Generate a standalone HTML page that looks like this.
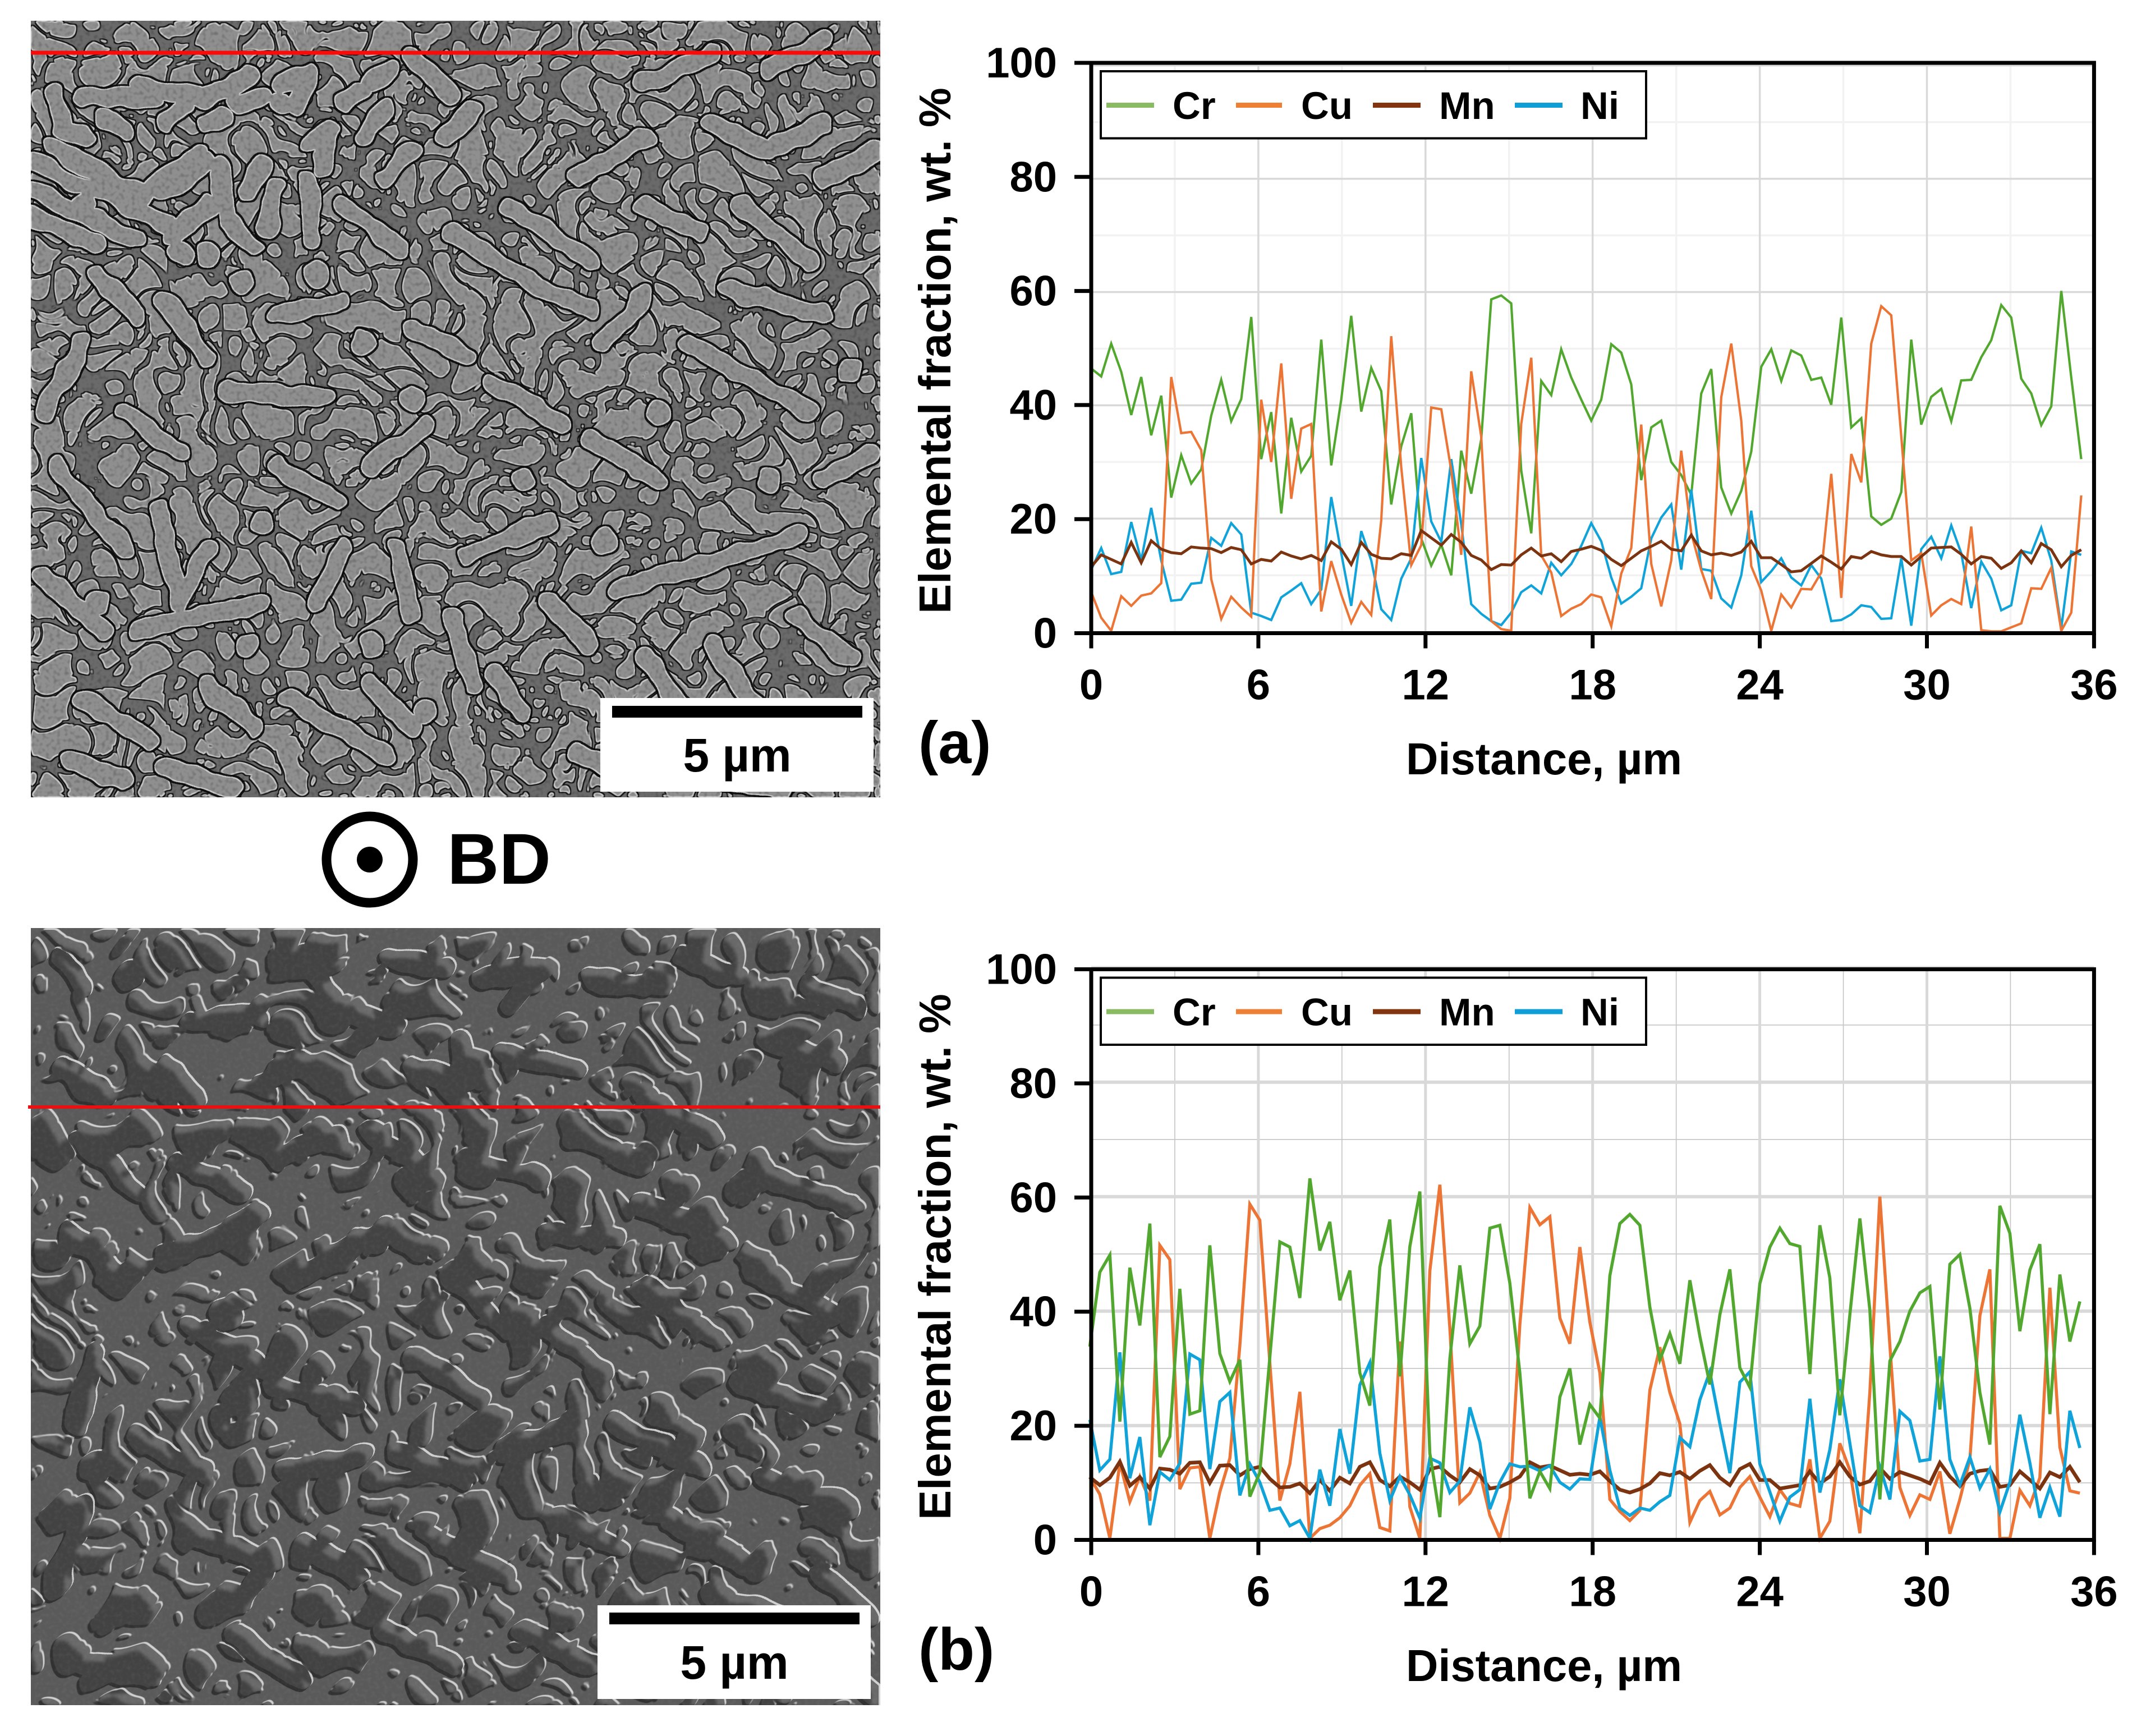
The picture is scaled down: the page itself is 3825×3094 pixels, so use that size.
<!DOCTYPE html>
<html lang="en">
<head>
<meta charset="utf-8">
<title>SEM micrographs and elemental line scans</title>
<style>
html,body{margin:0;padding:0;background:#fff;width:3825px;height:3094px;overflow:hidden}
svg{display:block}
text{font-family:"Liberation Sans",Arial,sans-serif;font-weight:bold;fill:#000}
</style>
</head>
<body>
<svg id="figure" xmlns="http://www.w3.org/2000/svg" width="3825" height="3094" viewBox="0 0 3825 3094">
<defs>
<filter id="semA" filterUnits="userSpaceOnUse" x="0" y="0" width="1514" height="1384" color-interpolation-filters="sRGB">
  <feTurbulence type="turbulence" baseFrequency="0.016" numOctaves="1" seed="5" result="n1"/>
  <feColorMatrix in="n1" type="matrix" values="0 0 0 0 .56  0 0 0 0 .56  0 0 0 0 .56  30 0 0 0 -1.2" result="c1"/>
  <feTurbulence type="turbulence" baseFrequency="0.012" numOctaves="1" seed="12" result="n2"/>
  <feColorMatrix in="n2" type="matrix" values="0 0 0 0 .56  0 0 0 0 .56  0 0 0 0 .56  30 0 0 0 -1.2" result="c2"/>
  <feComposite in="c1" in2="c2" operator="in"/>
  <feGaussianBlur stdDeviation="2"/>
  <feComponentTransfer result="cells"><feFuncA type="linear" slope="5" intercept="-2"/></feComponentTransfer>
  <feMorphology in="cells" operator="dilate" radius="2" result="cellFat"/>
  <feFlood flood-color="#0a0a0a" flood-opacity=".92"/>
  <feComposite in2="cellFat" operator="in" result="cellOutline"/>
  <feMorphology in="cells" operator="erode" radius="2" result="cellThin"/>
  <feComposite in="cells" in2="cellThin" operator="out" result="cellEdge"/>
  <feFlood flood-color="#e6e6e6" flood-opacity=".65"/>
  <feComposite in2="cellEdge" operator="in" result="cellRim"/>
  <feTurbulence type="fractalNoise" baseFrequency="0.02" numOctaves="2" seed="9" result="warp"/>
  <feDisplacementMap in="SourceGraphic" in2="warp" scale="22" xChannelSelector="R" yChannelSelector="G" result="worms"/>
  <feMorphology in="worms" operator="dilate" radius="3" result="wormFat"/>
  <feFlood flood-color="#0a0a0a" flood-opacity=".92"/>
  <feComposite in2="wormFat" operator="in" result="wormOutline"/>
  <feMorphology in="worms" operator="erode" radius="2" result="wormThin"/>
  <feComposite in="worms" in2="wormThin" operator="out" result="wormEdge"/>
  <feFlood flood-color="#e6e6e6" flood-opacity=".65"/>
  <feComposite in2="wormEdge" operator="in" result="wormRim"/>
  <feMerge>
    <feMergeNode in="cellOutline"/><feMergeNode in="cells"/><feMergeNode in="cellRim"/>
    <feMergeNode in="wormOutline"/><feMergeNode in="worms"/><feMergeNode in="wormRim"/>
  </feMerge>
</filter>
<filter id="semB" filterUnits="userSpaceOnUse" x="0" y="0" width="1514" height="1385" color-interpolation-filters="sRGB">
  <feTurbulence type="turbulence" baseFrequency="0.012" numOctaves="1" seed="21" result="n1"/>
  <feColorMatrix in="n1" type="matrix" values="0 0 0 0 .26  0 0 0 0 .26  0 0 0 0 .26  33 0 0 0 -2.4" result="c1"/>
  <feTurbulence type="turbulence" baseFrequency="0.0095" numOctaves="1" seed="33" result="n2"/>
  <feColorMatrix in="n2" type="matrix" values="0 0 0 0 .26  0 0 0 0 .26  0 0 0 0 .26  33 0 0 0 -2.4" result="c2"/>
  <feComposite in="c1" in2="c2" operator="in"/>
  <feGaussianBlur stdDeviation="3"/>
  <feComponentTransfer result="cells"><feFuncA type="linear" slope="5" intercept="-2"/></feComponentTransfer>
  <feTurbulence type="fractalNoise" baseFrequency="0.017" numOctaves="2" seed="14" result="warp"/>
  <feDisplacementMap in="SourceGraphic" in2="warp" scale="28" xChannelSelector="R" yChannelSelector="G" result="worms"/>
  <feMerge result="shape"><feMergeNode in="cells"/><feMergeNode in="worms"/></feMerge>
  <feOffset in="shape" dx="-5" dy="5" result="sh"/>
  <feFlood flood-color="#2f2f2f" flood-opacity=".95"/>
  <feComposite in2="sh" operator="in" result="shadow"/>
  <feOffset in="shape" dx="-3" dy="3" result="s1"/>
  <feComposite in="shape" in2="s1" operator="out" result="edge"/>
  <feFlood flood-color="#e4e4e4" flood-opacity=".85"/>
  <feComposite in2="edge" operator="in" result="rim"/>
  <feOffset in="shape" dx="-16" dy="16" result="s2"/>
  <feComposite in="shape" in2="s2" operator="out"/>
  <feGaussianBlur stdDeviation="3" result="softEdge"/>
  <feFlood flood-color="#9a9a9a" flood-opacity=".45"/>
  <feComposite in2="softEdge" operator="in"/>
  <feComposite in2="shape" operator="in" result="sheen"/>
  <feMerge><feMergeNode in="shadow"/><feMergeNode in="shape"/><feMergeNode in="sheen"/><feMergeNode in="rim"/></feMerge>
</filter>
<filter id="darkGrain" filterUnits="userSpaceOnUse" x="0" y="0" width="1514" height="1384" color-interpolation-filters="sRGB">
  <feTurbulence type="fractalNoise" baseFrequency="0.15" numOctaves="1" seed="3"/>
  <feColorMatrix type="matrix" values="0 0 0 0 0  0 0 0 0 0  0 0 0 0 0  2 0 0 0 -.95"/>
</filter>
<filter id="matrixGrain" filterUnits="userSpaceOnUse" x="0" y="0" width="1514" height="1385" color-interpolation-filters="sRGB">
  <feTurbulence type="fractalNoise" baseFrequency="0.14" numOctaves="2" seed="8"/>
  <feColorMatrix type="matrix" values="0 0 0 0 1  0 0 0 0 1  0 0 0 0 1  1.4 0 0 0 -.6"/>
</filter>
</defs>

<rect width="3825" height="3094" fill="#fff"/>

<svg x="55" y="37" width="1514" height="1384" viewBox="0 0 1514 1384">
  <rect width="1514" height="1384" fill="#6a6a6a"/>
  <g filter="url(#semA)">
    <g transform="scale(2.442) translate(-22,-15)" fill="none" stroke="#8f8f8f" stroke-width="14" stroke-linecap="round" stroke-linejoin="round">
      <path d="M22 117L123 164M22 138L98 175M22 158L69 177M38 107L106 143L143 112M118 140L150 118M125 172L152 150M62 70L112 72M40 68L46 95L62 100M75 85L92 95M100 62L150 72L182 55M120 90L135 78M150 90L162 85M172 75L192 70M205 60L225 55L215 78M160 120L165 160L185 180M190 120L180 140M200 135L195 165M225 130L228 175M225 105L240 95L235 120M250 75L262 65M270 60L285 50M265 100L280 80M300 40L330 70M280 130L300 110M325 100L345 80M250 150L290 180M330 170L395 210L430 225M370 150L430 190M420 130L470 100M470 60L520 40M560 50L600 30M520 90L560 110L600 90M470 150L510 170M540 150L590 190M600 130L640 110"/>
      <path d="M165 285L240 290M60 250L32 300M115 370L130 440L150 400M100 460L190 440M270 340L310 310M450 430L520 410L582 390M520 470L560 530M500 250L590 300M340 405L400 380M210 510L280 550M360 490L380 520M40 340L90 400M30 420L75 460M60 510L110 540M150 500L185 530M230 440L250 400M290 400L300 450M330 450L345 500M400 440L430 470M470 480L500 520M580 450L620 480M600 350L635 330M430 320L480 350M360 280L410 310M300 240L340 260M200 230L250 220M120 220L150 260M70 200L100 230M440 250L470 215M530 210L600 230M590 520L625 555M270 500L300 530M90 300L130 330M200 340L245 365M50 555L90 570M120 560L170 575M420 550L470 570M530 570L570 578"/>
      <path stroke-width="18" d="M130 185h.1M150 185h.1M175 205h.1M230 200h.1M265 250h.1M300 290h.1M190 380h.1M180 470h.1M270 470h.1M310 520h.1M380 350h.1M440 395h.1M560 350h.1M620 270h.1M480 300h.1M70 440h.1M60 150h.1M205 75h.1"/>
    </g>
  </g>
  <rect width="1514" height="1384" filter="url(#darkGrain)" opacity=".3"/>
</svg>
<rect x="55" y="90.5" width="1514" height="7" fill="#fb0a0a"/>
<rect x="1070" y="1244" width="487" height="167" fill="#fff"/>
<rect x="1091" y="1258" width="446" height="21" fill="#000"/>
<text x="1314" y="1375" font-size="84" text-anchor="middle">5 µm</text>

<g>
  <circle cx="659" cy="1532" r="77" fill="none" stroke="#000" stroke-width="17"/>
  <circle cx="659" cy="1532" r="23" fill="#000"/>
  <text x="797" y="1575" font-size="128">BD</text>
</g>

<svg x="55" y="1654" width="1514" height="1385" viewBox="0 0 1514 1385">
  <rect width="1514" height="1385" fill="#5a5a5a"/>
  <g filter="url(#semB)">
    <g transform="scale(2.442) translate(-22,-678)" fill="none" stroke="#434343" stroke-width="17" stroke-linecap="round" stroke-linejoin="round">
      <path d="M60 720L45 700M90 712h.1M140 745L190 742M225 700L250 740L290 748M285 700L325 705M350 715L395 705L370 735M190 790L220 775L252 800M120 780L140 800M45 780L75 800M300 780L340 790L335 760M370 770L420 780M430 715L470 720M500 700L540 715M590 720L625 735M560 760L610 775M470 800L520 830M420 830L470 850M345 850L395 860M270 825L305 850M200 845L245 830M130 850L175 870M60 830L100 870M50 900L90 930M120 920L165 900L190 885M215 935L280 895L305 915M330 930L370 970M400 900L450 905M470 880L530 905M560 860L620 880M550 930L610 960M470 940L520 975M400 970L440 1000M300 990L350 1020M200 1012L258 1025M140 970L195 1000M70 985L55 1040M100 1050L150 1075M210 1075L265 1060M290 1060L340 1080M370 1060L420 1040M450 1040L510 1070M540 1010L600 1030M560 1080L620 1100M490 1110L540 1140M410 1110L450 1130M310 1120L370 1150M220 1125L260 1150M140 1120L195 1140L175 1170M60 1100L40 1160M50 1210L110 1225M170 1195L220 1225M280 1190L330 1215M380 1190L430 1215M470 1210L500 1230M520 1165L570 1180M600 1150L635 1180M620 1220L640 1240"/>
      <path stroke-width="24" d="M95 712h.1M235 1022h.1M270 905h.1M165 960h.1M430 1090h.1M540 1045h.1M505 1050h.1M70 1070h.1"/>
    </g>
  </g>
  <rect width="1514" height="1385" filter="url(#matrixGrain)" opacity=".08"/>
</svg>
<rect x="50" y="1970" width="1519" height="6" fill="#e81010"/>
<rect x="1065" y="2861" width="487" height="167" fill="#fff"/>
<rect x="1086" y="2874" width="446" height="21" fill="#000"/>
<text x="1309" y="2992" font-size="84" text-anchor="middle">5 µm</text>

<g id="chartA"></g>
<g id="chartB"></g>

<g>
  <rect x="1962" y="127" width="972" height="119.5" fill="#fff" stroke="#000" stroke-width="4"/>
  <g><line x1="1972" x2="2057" y1="187.5" y2="187.5" stroke="#8abb63" stroke-width="9"/><text x="2090" y="212" font-size="69">Cr</text></g>
  <g><line x1="2203" x2="2285" y1="187.5" y2="187.5" stroke="#ee8035" stroke-width="9"/><text x="2319" y="212" font-size="69">Cu</text></g>
  <g><line x1="2447" x2="2532" y1="187.5" y2="187.5" stroke="#82350f" stroke-width="9"/><text x="2565" y="212" font-size="69">Mn</text></g>
  <g><line x1="2700" x2="2785" y1="187.5" y2="187.5" stroke="#0f9ed5" stroke-width="9"/><text x="2817" y="212" font-size="69">Ni</text></g>
</g>
<g transform="translate(0,1615.5)">
  <rect x="1962" y="127" width="972" height="119.5" fill="#fff" stroke="#000" stroke-width="4"/>
  <g><line x1="1972" x2="2057" y1="187.5" y2="187.5" stroke="#8abb63" stroke-width="9"/><text x="2090" y="212" font-size="69">Cr</text></g>
  <g><line x1="2203" x2="2285" y1="187.5" y2="187.5" stroke="#ee8035" stroke-width="9"/><text x="2319" y="212" font-size="69">Cu</text></g>
  <g><line x1="2447" x2="2532" y1="187.5" y2="187.5" stroke="#82350f" stroke-width="9"/><text x="2565" y="212" font-size="69">Mn</text></g>
  <g><line x1="2700" x2="2785" y1="187.5" y2="187.5" stroke="#0f9ed5" stroke-width="9"/><text x="2817" y="212" font-size="69">Ni</text></g>
</g>

<text x="1637" y="1360" font-size="106">(a)</text>
<text x="1637" y="2976" font-size="106">(b)</text>
<text x="2752" y="1380" font-size="79.5" text-anchor="middle">Distance, µm</text>
<text x="2752" y="2996" font-size="79.5" text-anchor="middle">Distance, µm</text>
<text transform="translate(1694,625) rotate(-90)" font-size="79.6" text-anchor="middle">Elemental fraction, wt. %</text>
<text transform="translate(1694,2240) rotate(-90)" font-size="79.6" text-anchor="middle">Elemental fraction, wt. %</text>
</svg>

<script>
const sampleStep = 0.359;
const sampleStartA = 0;
const sampleStartB = -0.05;
const xTickValues = [0, 6, 12, 18, 24, 30, 36];
const yTickValues = [0, 20, 40, 60, 80, 100];
const xMinorGrid = [3, 9, 15, 21, 27, 33];
const yMinorGrid = [10, 30, 50, 70, 90];

const crA = [46.5,45.1,50.9,45.9,38.3,45,34.7,41.7,23.7,31.2,26.2,28.7,38.2,44.5,37.2,41.1,55.6,30.5,38.8,20.9,37.8,28.3,31.1,51.6,29.4,41,55.8,38.9,46.6,42.5,22.5,32.8,38.6,16.5,11.7,15.4,10,32,24.4,34,58.7,59.4,58,28.5,17.4,44.3,41.8,49.9,44.9,41,37.3,41,50.8,49.3,43.7,26.8,36.1,37.3,30,27.7,24.2,42.1,46.4,25.5,20.9,24.9,31.8,46.8,49.9,44.3,49.7,48.8,44.5,44.9,40.1,55.5,36.1,37.7,20.4,18.9,20,24.7,51.6,36.6,41.5,42.9,37.2,44.4,44.5,48.5,51.5,57.7,55.5,44.7,42.1,36.5,39.8,60.2,44.9,30.5];
const cuA = [7,2.5,0.2,6.3,4.6,6.4,6.8,8.6,45,35.1,35.3,32.1,9.3,2.3,6.2,4.3,2.7,41,30,47.4,23.5,35.9,36.7,3.6,12.5,6.6,1.6,5.3,3,19.7,52.2,29,11.8,15.3,39.6,39.3,28.5,13.6,46,34.5,1.9,0.5,0.2,36.7,48.4,13.5,10.5,2.8,4.1,4.9,6.6,6.1,1,10.3,14.8,36.6,12,4.5,12.6,32,17.4,10.9,5.8,41.4,50.9,37.3,11.6,7.3,0.2,6.6,4.3,7.6,7.5,10.5,27.9,6,31.4,26.4,50.9,57.5,55.9,34.5,12.6,13.9,2.9,4.7,5.8,4.9,18.6,0.3,0.1,0.1,0.8,1.5,7.7,7.6,11.3,0.2,3.4,24.1];
const mnA = [11.5,13.6,12.8,12,15.8,12.2,16.1,14.6,14,13.8,15,14.8,14.7,14,14.9,14.5,12,12.8,12.5,14.1,13.4,12.9,13.5,12.6,15.9,14.6,11.9,15.8,13.7,13,12.9,13.8,13.5,17.9,16.6,15.3,17.2,15.8,13.5,12.7,11,11.9,11.8,13.6,14.8,13.4,13.8,12.4,14.2,14.6,15.1,14.4,12.8,11.7,13,14.3,15.1,16,14.6,14.3,17.1,14.3,13.6,13.9,13.5,14.1,16,13.1,13.1,11.9,10.6,10.8,12.1,13.4,12.3,11.1,13.3,13,14.2,13.6,13.3,13.3,11.8,13.3,14.8,14.9,15,13.7,12,13.3,13,11.2,12.2,14.3,12.2,15.6,14.5,11.5,13.5,14.5];
const niA = [11,14.8,10.2,10.6,19.4,12.6,21.9,12.6,5.5,5.7,8.5,8.7,16.6,15.2,19.2,17.2,3.4,2.8,2.1,6.1,7.3,8.6,4.9,7.5,23.8,13.9,4.6,17.8,12.6,4,2.1,9.4,13,30.7,19.5,15.9,30.5,19,4.9,3.2,1.9,1.2,3.4,7,8.2,6.8,12.2,10,12,15.2,19.2,16,9.6,5,6.2,7.7,16.5,20.2,22.5,11,25.1,11.1,10.8,5.9,4.3,10,21.4,8.8,10.7,13,9.6,8.2,11.8,9.4,1.9,2.1,3.1,4.7,4.4,2.3,2.4,13,1.1,14.6,16.8,13,18.8,13.9,4.2,12.4,9.4,3.8,4.7,14.3,13.9,18.4,12.6,0.7,14.2,13.6];

const crB = [33.8,46.8,49.8,20.7,47.6,37.5,55.3,14.5,18.1,43.9,22,22.6,51.5,32.6,27.7,31.5,7.6,11.8,32,52.1,51.2,42.3,63.2,50.6,55.6,41.9,47.1,29.2,23.5,47.7,56,28.6,51.3,60.9,15.2,4,31.7,48,34.3,37.4,54.5,55,44.9,29.2,7.3,12,9,25,30,16.7,23.7,21.3,46.2,55.3,56.9,55,40.7,31.5,36.1,30.8,45.4,35.6,27.2,39.4,47.3,30.1,26.7,44.8,51.2,54.5,51.8,51.3,29,55,45.8,21.8,39.4,56.2,40.2,7.1,31.3,34.7,40,43.2,44.3,22.8,48.2,49.9,40.5,25.8,16.7,58.4,53.6,36.5,47.2,51.7,22,46.4,34.7,41.7];
const cuB = [11,8,0.3,13.5,6.7,11.1,6.9,51.5,49,8.9,12.6,12.8,0.3,8.4,14.3,34,58.7,55.9,30.9,6.9,13.3,25.9,0.3,2,2.6,3.9,6,9.6,11.6,2.2,1.6,34.7,5.8,0.3,47,62.1,37,6.5,8.2,11.8,4.3,0.3,7.3,37.7,58.1,55.1,56.5,38.8,34.3,51.2,38.1,29.2,7.1,5,3.4,5.2,26.2,33.7,25.8,20.3,3.1,6.9,8.5,4.4,5.6,9.2,11.1,7.5,4.1,8.8,6.4,5.9,14.1,0.3,3.3,16.9,12.2,1.2,25.8,60,34,9.2,4.3,7.9,7.1,12,1.1,7.1,14.1,39.2,47.3,0.3,0.3,8.7,6,10.9,44.1,16.2,8.6,8.2];
const mnB = [11,9.6,10.9,13.7,9.5,11,9,12.5,12.3,11.6,13.5,13.6,10,13,13.1,11.3,12.4,12.8,10.7,9.2,9.3,9.9,8.2,10.5,8.6,10.9,9.9,12.8,13.6,10.5,9.4,11.1,10.1,8.8,12.4,12.8,11.3,10.1,12.4,11.3,9,9.3,10.1,11.1,13.6,12.7,13,12.2,11.4,11.6,11.4,12,10.3,8.8,8.3,8.9,9.9,11.7,11.3,11.9,10.7,12.1,13.1,10.9,9.6,12.4,13.3,10.5,10.5,9,9.3,9.6,12,9.9,11.1,13.6,11.1,9.7,10.3,12.6,10.7,11.9,11.3,10.7,9.9,13.5,11.1,9.4,11.6,12.1,12.3,9.3,9.6,12,10.5,9,11.8,11,12.8,10.1];
const niB = [21,12.2,14.1,32.8,10.8,18,2.6,11.9,10.5,13.4,32.5,31.5,12.4,24.2,25.8,7.8,13.3,10.1,5.2,5.6,2.5,3.4,0.3,12.3,6,19.4,11.6,27.1,31,15.2,6.9,11.1,7.9,3.8,14.3,13.5,8.3,10.3,23.2,17.1,5.4,10.1,13.3,12.8,12.9,12.1,13,10.1,8.9,10.7,10.6,21.5,12.2,5.6,4.3,5.6,5.2,6.7,7.8,17.9,16.3,24.5,29.4,20.3,11.7,27.6,29.4,13.3,8.4,3.3,7.5,8.8,24.7,8.3,15.8,28.1,16.9,6,4.8,12.8,7.1,22.5,20.9,13.8,14.1,32.1,14.1,9.6,14.5,9.1,12.4,4.9,10.1,21.9,13.5,3.9,9.2,4.1,22.6,16.1];

const NS = 'http://www.w3.org/2000/svg';
const GREEN = '#52a82e', ORANGE = '#ec7434', BROWN = '#7b3310', BLUE = '#0fa3d9';

function xAxisPos(v) { return 1945 + v * 49.65; }
function yDataA(v) { return 1126.2 - v * 10.095; }
function yFrameA(v) { return 1128.5 - v * 10.165; }
function yDataB(v) { return 2744.8 - v * 10.2; }
function yFrameB(v) { return 2744.5 - v * 10.17; }

function make(parent, tag, props) {
  const el = document.createElementNS(NS, tag);
  for (const k in props) el.setAttribute(k, props[k]);
  parent.appendChild(el);
  return el;
}

function drawGrid(parent, yData, frameTop, frameBottom, major, minor) {
  xMinorGrid.forEach(function (v) {
    const g = make(parent, 'line', {x1: xAxisPos(v), x2: xAxisPos(v), y1: frameTop, y2: frameBottom, stroke: minor.color, 'stroke-width': minor.v});
    
    
  });
  yMinorGrid.forEach(function (v) {
    const g = make(parent, 'line', {x1: xAxisPos(0), x2: xAxisPos(36), y1: yData(v), y2: yData(v), stroke: minor.color, 'stroke-width': minor.h});
    
    
  });
  xTickValues.forEach(function (v) {
    const g = make(parent, 'line', {x1: xAxisPos(v), x2: xAxisPos(v), y1: frameTop, y2: frameBottom, stroke: major.color, 'stroke-width': major.v});
    
    
  });
  yTickValues.forEach(function (v) {
    const g = make(parent, 'line', {x1: xAxisPos(0), x2: xAxisPos(36), y1: yData(v), y2: yData(v), stroke: major.color, 'stroke-width': major.h});
    
    
  });
}

function drawSeries(parent, name, values, start, yData, color, width) {
  const pts = values.map(function (v, i) {
    return xAxisPos(start + i * sampleStep).toFixed(1) + ',' + yData(v).toFixed(1);
  }).join(' ');
  const line = make(parent, 'polyline', {points: pts, fill: 'none', stroke: color, 'stroke-width': width, 'stroke-linejoin': 'miter', 'stroke-miterlimit': 4});
  
  
}

function drawAxes(parent, yFrame) {
  const top = yFrame(100), bottom = yFrame(0);
  const frame = make(parent, 'rect', {x: xAxisPos(0), y: top, width: xAxisPos(36) - xAxisPos(0), height: bottom - top, fill: 'none', stroke: '#000', 'stroke-width': 7});
  
  
  xTickValues.forEach(function (v) {
    const t = make(parent, 'line', {x1: xAxisPos(v), x2: xAxisPos(v), y1: bottom, y2: bottom + 27, stroke: '#000', 'stroke-width': 7});
    
    
    const l = make(parent, 'text', {x: xAxisPos(v), y: bottom + 118, 'font-size': 76, 'text-anchor': 'middle'});
    l.textContent = String(v);
    
    
  });
  yTickValues.forEach(function (v) {
    const t = make(parent, 'line', {x1: xAxisPos(0) - 30, x2: xAxisPos(0), y1: yFrame(v), y2: yFrame(v), stroke: '#000', 'stroke-width': 7});
    
    
    const l = make(parent, 'text', {x: 1884, y: yFrame(v) + 26, 'font-size': 76, 'text-anchor': 'end'});
    l.textContent = String(v);
    
    
  });
}

const chartA = document.getElementById('chartA');
drawGrid(chartA, yDataA, yFrameA(100), yFrameA(0), {color: '#d9d9d9', v: 3.5, h: 3.5}, {color: '#f2f2f2', v: 3.5, h: 3.5});
drawSeries(chartA, 'series-cr-a', crA, sampleStartA, yDataA, GREEN, 4.2);
drawSeries(chartA, 'series-ni-a', niA, sampleStartA, yDataA, BLUE, 4.2);
drawSeries(chartA, 'series-cu-a', cuA, sampleStartA, yDataA, ORANGE, 4.2);
drawSeries(chartA, 'series-mn-a', mnA, sampleStartA, yDataA, BROWN, 5);
drawAxes(chartA, yFrameA);

const chartB = document.getElementById('chartB');
drawGrid(chartB, yDataB, yFrameB(100), yFrameB(0), {color: '#d9d9d9', v: 5, h: 6}, {color: '#c4c4c4', v: 1.6, h: 1.6});
drawSeries(chartB, 'series-cu-b', cuB, sampleStartB, yDataB, ORANGE, 5.5);
drawSeries(chartB, 'series-mn-b', mnB, sampleStartB, yDataB, BROWN, 6.5);
drawSeries(chartB, 'series-ni-b', niB, sampleStartB, yDataB, BLUE, 5.5);
drawSeries(chartB, 'series-cr-b', crB, sampleStartB, yDataB, GREEN, 5.5);
drawAxes(chartB, yFrameB);
</script>
</body>
</html>
